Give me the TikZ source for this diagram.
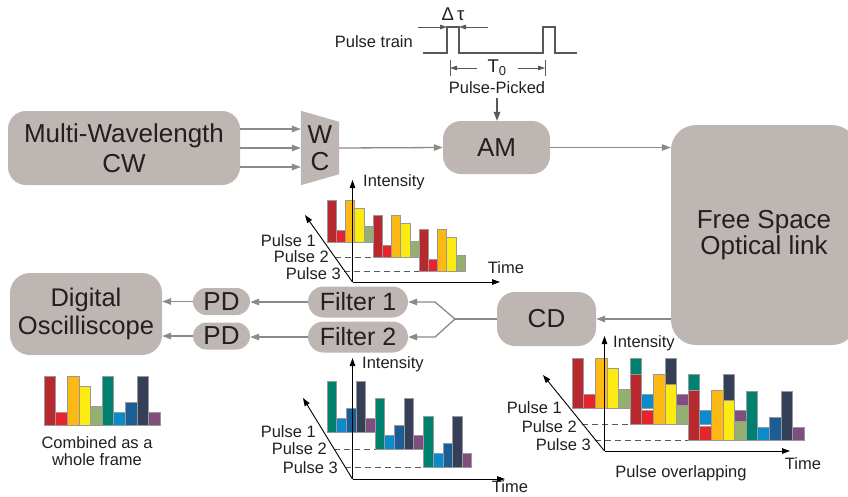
\documentclass[tikz,border=0pt]{standalone}
\usepackage{fontspec}
\setmainfont{Liberation Sans}
\usetikzlibrary{arrows.meta}
\definecolor{boxgray}{HTML}{BDB6B3}
\definecolor{lgray}{HTML}{8C8989}
\definecolor{dgray}{HTML}{5A5858}
\definecolor{txt}{HTML}{231F20}
\definecolor{cDR}{HTML}{B7292F}
\definecolor{cR}{HTML}{E8232A}
\definecolor{cO}{HTML}{FDB913}
\definecolor{cY}{HTML}{FCEA10}
\definecolor{cG}{HTML}{95AF72}
\definecolor{cT}{HTML}{00806F}
\definecolor{cB}{HTML}{0A8BCB}
\definecolor{cDB}{HTML}{1B5E96}
\definecolor{cN}{HTML}{353F58}
\definecolor{cP}{HTML}{7D4E7E}
\def\redser{cDR/1,cR/.27,cO/1,cY/.8,cG/.38}
\def\tealser{cT/1,cB/.27,cDB/.47,cN/1,cP/.27}
\newcommand\pulsegroup[5]{%
  \foreach \cc/\ff [count=\ii from 0] in #5 {%
    \filldraw[barst,fill=\cc] ({#1+\ii*#3},#2) rectangle ({#1+(\ii+1)*#3},{#2-\ff*#4});}}
\tikzset{
  box/.style={fill=boxgray, rounded corners=#1, inner sep=0pt, align=center,
    text=txt, font=\fontsize{26}{29}\selectfont},
  box/.default=18pt,
  conn/.style={draw=lgray, line width=1.3pt, -{Triangle[length=9pt,width=6.5pt]}},
  plain/.style={draw=lgray, line width=1.3pt},
  axisst/.style={draw=black, line width=0.9pt, -{Triangle[length=8pt,width=5.5pt]}},
  dashst/.style={draw=dgray, line width=0.8pt, dash pattern=on 6pt off 4pt},
  barst/.style={draw=black!40, line width=0.4pt},
  pulsest/.style={draw=dgray, line width=1.4pt},
  dimst/.style={draw=dgray, line width=0.8pt, -{Triangle[length=7pt,width=4.5pt]}},
  lbl/.style={text=txt, inner sep=0pt},
}
\begin{document}
\begin{tikzpicture}[x=1pt,y=-1pt, font=\fontsize{16.5}{19}\selectfont, text=txt]
\useasboundingbox (0,0) rectangle (848,496);

% ---------- boxes ----------
\node[box, minimum width=232pt, minimum height=74pt, font=\fontsize{26}{30}\selectfont] (mw) at (124,148) {Multi-Wavelength\\CW};
\node[minimum width=38pt, minimum height=74pt, inner sep=0pt] (wc) at (320,148) {};
\fill[boxgray] (wc.north west) -- ([yshift=-11pt]wc.north east) -- ([yshift=11pt]wc.south east) -- (wc.south west) -- cycle;
\node[lbl, font=\fontsize{26}{29}\selectfont] (wcW) at (320,135) {W};
\node[lbl, font=\fontsize{26}{29}\selectfont] (wcC) at (320,162) {C};
\node[box, minimum width=107pt, minimum height=53pt] (am) at (496.5,147.5) {AM};
\begin{scope}
\clip (0,0) rectangle (848,496);
\node[box=25pt, minimum width=186pt, minimum height=220pt, font=\fontsize{26}{26}\selectfont] (fso) at (764,235) {Free Space\\Optical link};
\end{scope}
\node[box, minimum width=99pt, minimum height=54pt] (cd) at (546.5,319) {CD};
\node[box=15.5pt, minimum width=100pt, minimum height=31pt, font=\fontsize{25}{29}\selectfont] (f1) at (358,302) {Filter 1};
\node[box=15.5pt, minimum width=100pt, minimum height=31pt, font=\fontsize{25}{29}\selectfont] (f2) at (358,337) {Filter 2};
\node[box=13.5pt, minimum width=57pt, minimum height=27pt] (pd1) at (221.5,301.5) {PD};
\node[box=13.5pt, minimum width=57pt, minimum height=27pt] (pd2) at (221.5,336) {PD};
\node[box=20pt, minimum width=152pt, minimum height=82pt, font=\fontsize{25.5}{28}\selectfont] (dso) at (86,314) {Digital\\Oscilliscope};

% ---------- connectors ----------
\draw[conn] ([yshift=19pt]mw.east) -- ([yshift=19pt]wc.west);
\draw[conn] (mw.east) -- (wc.west);
\draw[conn] ([yshift=-19pt]mw.east) -- ([yshift=-19pt]wc.west);
\draw[conn] (wc.east) -- (am.west);
\draw[conn] (am.east) -- (am.east -| fso.west);
\draw[conn] (fso.west |- cd.east) -- (cd.east);
\coordinate (sp) at (455,319);
\coordinate (k1) at (435,302);
\coordinate (k2) at (435,337);
\draw[plain] (cd.west) -- (sp);
\draw[conn] (sp) -- (k1) -- (f1.east);
\draw[conn] (sp) -- (k2) -- (f2.east);
\draw[conn] (f1.west) -- (f1.west -| pd1.east);
\draw[conn] (f2.west) -- (f2.west -| pd2.east);
\draw[conn] (pd1.west) -- (pd1.west -| dso.east);
\draw[conn] (pd2.west) -- (pd2.west -| dso.east);

% ---------- pulse train ----------
\node[lbl, anchor=east] (pt) at (413,42) {Pulse train};
\draw[pulsest] (423,53) -- (447,53) -- (447,27) -- (459,27) -- (459,53) -- (543,53) -- (543,27) -- (555,27) -- (555,53) -- (577,53);
\draw[dimst] (418,27) -- (447,27);
\draw[dimst] (488,27) -- (459,27);
\node[lbl, font=\fontsize{18.5}{20}\selectfont] (dt) at (453,14) {Δ\,τ};
\draw[draw=dgray, line width=0.8pt] (450,60) -- (450,76) (545,60) -- (545,76);
\draw[dimst] (477,68) -- (450,68);
\draw[dimst] (518,68) -- (545,68);
\node[lbl, font=\fontsize{18.5}{20}\selectfont] (t0) at (497,68) {T\textsubscript{0}};
\node[lbl] (pp) at (497,88) {Pulse-Picked};
\draw[conn, draw=dgray] ([yshift=-4pt]pp.south) -- (pp.south |- am.north);

% ---------- chart A (top) ----------
\coordinate (oA) at (352.5,282);
\draw[dashst] (334.5,257) -- (373,257);
\draw[dashst] (344.3,271) -- (419,271);
\pulsegroup{327}{242}{9.2}{42}{\redser}
\pulsegroup{373}{257}{9.2}{42}{\redser}
\pulsegroup{419}{271}{9.2}{42}{\redser}
\draw[axisst] (oA) -- (352.5,180);
\draw[axisst] (oA) -- (500,282);
\draw[axisst] (oA) -- (305,215);
\node[lbl, anchor=west] at (363,182) {Intensity};
\node[lbl] at (506,268) {Time};
\node[lbl, anchor=east] at (316,241) {Pulse 1};
\node[lbl, anchor=east] at (329,257) {Pulse 2};
\node[lbl, anchor=east] at (341,274) {Pulse 3};

% ---------- chart B (bottom middle) ----------
\coordinate (oB) at (352.5,479);
\draw[dashst] (334.2,449) -- (375,449);
\draw[dashst] (345.2,467) -- (423.5,467);
\pulsegroup{327}{432}{9.6}{51}{\tealser}
\pulsegroup{375}{449}{9.6}{51}{\tealser}
\pulsegroup{423.5}{467}{9.6}{51}{\tealser}
\draw[axisst] (oB) -- (352.5,358);
\draw[axisst] (oB) -- (505,479);
\draw[axisst] (oB) -- (303,398);
\node[lbl, anchor=west] at (362,364) {Intensity};
\node[lbl] at (510,486.5) {Time};
\node[lbl, anchor=east] at (316,432) {Pulse 1};
\node[lbl, anchor=east] at (327,449) {Pulse 2};
\node[lbl, anchor=east] at (338,468) {Pulse 3};

% ---------- chart C (overlapping) ----------
\coordinate (oC) at (604.5,451);
\draw[dashst] (581.8,424) -- (630,424);
\draw[dashst] (594.5,440) -- (688,440);
\pulsegroup{630}{408}{11.6}{50}{\tealser}
\pulsegroup{688}{424}{11.6}{50}{\tealser}
\pulsegroup{746}{440}{11.6}{49}{\tealser}
\pulsegroup{572}{408}{11.6}{50}{\redser}
\pulsegroup{630}{424}{11.6}{50}{\redser}
\pulsegroup{688}{440}{11.6}{50}{\redser}
\draw[axisst] (oC) -- (604.5,336);
\draw[axisst] (oC) -- (790,451);
\draw[axisst] (oC) -- (543,375);
\node[lbl, anchor=west] at (613,343) {Intensity};
\node[lbl] at (803,464) {Time};
\node[lbl, anchor=east] at (562,408) {Pulse 1};
\node[lbl, anchor=east] at (577,427) {Pulse 2};
\node[lbl, anchor=east] at (591,445) {Pulse 3};
\node[lbl] at (681,473) {Pulse overlapping};

% ---------- combined frame ----------
\pulsegroup{44}{425}{11.6}{49}{\redser}
\pulsegroup{102}{425}{11.6}{49}{\tealser}
\node[lbl, align=center, font=\fontsize{16.5}{17.5}\selectfont] at (97,451) {Combined as a\\whole frame};
\end{tikzpicture}
\end{document}
